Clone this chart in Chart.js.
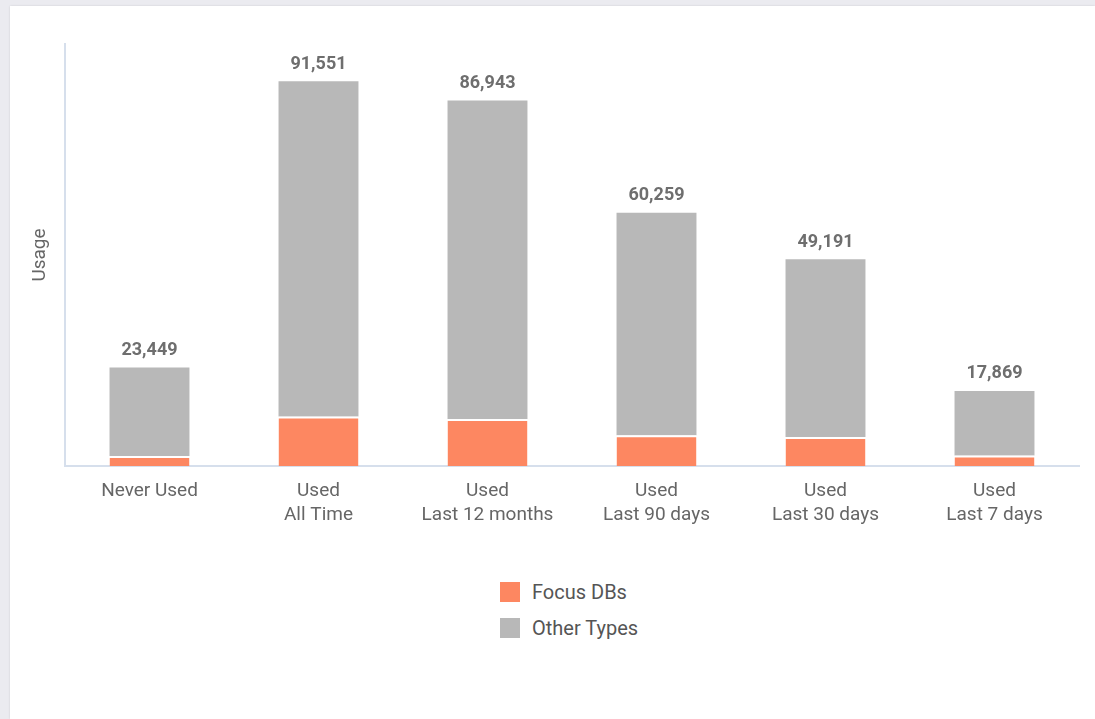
<!DOCTYPE html>
<html>
<head>
<meta charset="utf-8">
<script src="https://cdn.jsdelivr.net/npm/chart.js@4.4.1/dist/chart.umd.min.js"></script>
<style>
  html, body { margin: 0; padding: 0; background: #ebebf0; }
  body { width: 1095px; height: 719px; position: relative; overflow: hidden; font-family: Roboto, "Noto Sans", sans-serif; }
  #panel { position: absolute; left: 10px; top: 6px; width: 1085px; height: 713px; background: #fff; box-shadow: 0 0 2px rgba(0,0,0,0.12); }
  #wrap { position: absolute; left: 0; top: 0; width: 1085px; height: 554px; }
  #legend { position: absolute; left: 490px; top: 568px; }
  .lg-item { display: flex; align-items: center; height: 36px; font-size: 20px; color: #555; }
  .lg-box { width: 20px; height: 20px; margin-right: 12px; }
</style>
</head>
<body>
<div id="panel">
  <div id="wrap"><canvas id="usageChart"></canvas></div>
  <div id="legend"></div>
</div>
<script>
const categories = [
  "Never Used",
  ["Used", "All Time"],
  ["Used", "Last 12 months"],
  ["Used", "Last 90 days"],
  ["Used", "Last 30 days"],
  ["Used", "Last 7 days"]
];
const focusDbs = [2400, 11800, 11200, 7300, 6900, 2500];
const otherTypes = [21049, 79751, 75743, 52959, 42291, 15369];
const seriesNames = ["Focus DBs", "Other Types"];
const seriesColors = ["#fd8761", "#b8b8b8"];
const yMax = 100400;

function el(id){ return document.getElementById(id); }

// totals written above each stacked column
const totalLabels = {
  id: "totalLabels",
  afterDatasetsDraw(chart) {
    const ctx = chart.ctx;
    const y = chart.scales.y;
    const x = chart.scales.x;
    ctx.save();
    ctx.font = "bold 18px Roboto";
    ctx.fillStyle = "#6e6e6e";
    ctx.textAlign = "center";
    ctx.textBaseline = "middle";
    categories.forEach((c, i) => {
      const total = chart.data.datasets.reduce((s, d) => s + d.data[i], 0);
      ctx.fillText(total.toLocaleString("en-US"), x.getPixelForValue(i), y.getPixelForValue(total) - 17);
    });
    ctx.restore();
  }
};

const chart = new Chart(el("usageChart"), {
  type: "bar",
  data: {
    labels: categories,
    datasets: [
      {
        label: seriesNames[0], data: focusDbs, backgroundColor: seriesColors[0],
        borderColor: "#fff", borderWidth: { top: 2, left: 0, right: 0, bottom: 0 }, borderSkipped: "start"
      },
      {
        label: seriesNames[1], data: otherTypes, backgroundColor: seriesColors[1],
        borderWidth: 0
      }
    ]
  },
  options: {
    responsive: true,
    maintainAspectRatio: false,
    animation: false,
    layout: { padding: { top: 38, right: 16, bottom: 20, left: 0 } },
    datasets: { bar: { categoryPercentage: 1, barPercentage: 0.473 } },
    plugins: {
      legend: { display: false },
      tooltip: { enabled: false }
    },
    scales: {
      x: {
        stacked: true,
        grid: { display: false, drawTicks: false },
        border: { color: "#d6dfec", width: 2 },
        ticks: { padding: 13, color: "#666", font: { family: "Roboto", size: 19, lineHeight: 24 / 19 } }
      },
      y: {
        stacked: true,
        min: 0,
        max: yMax,
        grid: { display: false, drawTicks: false },
        border: { color: "#d6dfec", width: 2 },
        ticks: { display: false },
        title: {
          display: true, text: "Usage", color: "#666",
          font: { family: "Roboto", size: 19, lineHeight: 1.2 },
          padding: { top: 18.6, bottom: 13.6 }
        }
      }
    }
  },
  plugins: [totalLabels]
});

// legend list under the chart, one row per series
const legend = el("legend");
chart.data.datasets.forEach(ds => {
  const row = document.createElement("div");
  row.className = "lg-item";
  const box = document.createElement("span");
  box.className = "lg-box";
  box.style.background = ds.backgroundColor;
  const txt = document.createElement("span");
  txt.textContent = ds.label;
  row.append(box, txt);
  legend.appendChild(row);
});
</script>
</body>
</html>
